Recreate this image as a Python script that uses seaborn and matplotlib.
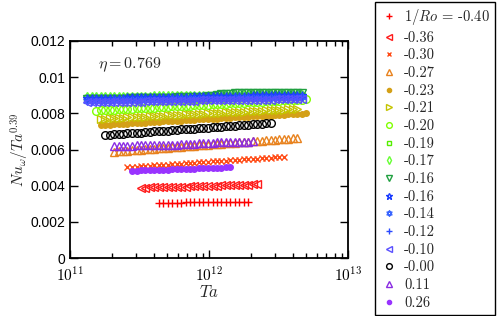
import numpy as np
import pandas as pd
import matplotlib
matplotlib.use("Agg")
import matplotlib.pyplot as plt
from matplotlib.path import Path
from matplotlib.ticker import FuncFormatter, FixedLocator
import seaborn as sns

# ---------------- data ----------------
# common Ta grid (units of 1e11)
TA_GRID = [1.33, 1.43, 1.54, 1.66, 1.79, 1.93, 2.08, 2.24, 2.41, 2.59,
           2.79, 3.01, 3.24, 3.49, 3.75, 4.04, 4.35, 4.69, 5.05, 5.43,
           5.85, 6.3, 6.78, 7.3, 7.86, 8.47, 9.12, 9.82, 10.6, 11.4,
           12.3, 13.2, 14.2, 15.3, 16.5, 17.8, 19.1, 20.6, 22.2, 23.9,
           25.7, 27.7, 29.8, 32.1, 34.6, 37.2, 40.1, 43.2, 46.5, 50.0]

labels = [r"$1/Ro$ = -0.40", "-0.36", "-0.30", "-0.27", "-0.23", "-0.21",
          "-0.20", "-0.19", "-0.17", "-0.16", "-0.16", "-0.14", "-0.12",
          "-0.10", "-0.00", "0.11", "0.26"]

# index in TA_GRID where each sweep starts
start_idx = [16, 12, 9, 6, 3, 3, 2, 0, 0, 0, 0, 0, 0, 0, 4, 6, 10]

# Nu_omega / Ta^0.39 (units of 1e-3)
nu_m040 = [3.04, 3.05, 3.05, 3.06, 3.06, 3.06, 3.07, 3.07, 3.07, 3.08, 3.08,
           3.08, 3.09, 3.09, 3.10, 3.10, 3.10, 3.11, 3.11, 3.12, 3.12]
nu_m036 = [3.88, 3.89, 3.90, 3.90, 3.91, 3.92, 3.93, 3.93, 3.94, 3.95, 3.95,
           3.96, 3.97, 3.97, 3.98, 3.99, 3.99, 4.00, 4.01, 4.02, 4.02, 4.03,
           4.04, 4.05, 4.06, 4.07, 4.08]
nu_m030 = [5.02, 5.04, 5.05, 5.07, 5.09, 5.10, 5.12, 5.14, 5.15, 5.17, 5.19,
           5.20, 5.22, 5.24, 5.25, 5.27, 5.29, 5.30, 5.32, 5.34, 5.35, 5.37,
           5.39, 5.40, 5.42, 5.44, 5.45, 5.47, 5.49, 5.50, 5.52, 5.54, 5.55,
           5.57, 5.58, 5.60]
nu_m027 = [5.88, 5.90, 5.92, 5.94, 5.95, 5.97, 5.99, 6.01, 6.03, 6.05, 6.06,
           6.08, 6.10, 6.12, 6.14, 6.16, 6.17, 6.19, 6.21, 6.23, 6.25, 6.27,
           6.28, 6.30, 6.32, 6.34, 6.36, 6.38, 6.39, 6.41, 6.43, 6.45, 6.47,
           6.49, 6.50, 6.52, 6.54, 6.56, 6.58, 6.60, 6.62, 6.64]
nu_m023 = [7.35, 7.36, 7.38, 7.39, 7.41, 7.42, 7.43, 7.45, 7.46, 7.48, 7.49,
           7.50, 7.52, 7.53, 7.55, 7.56, 7.57, 7.59, 7.60, 7.62, 7.63, 7.64,
           7.66, 7.67, 7.69, 7.70, 7.71, 7.73, 7.74, 7.76, 7.77, 7.78, 7.80,
           7.81, 7.83, 7.84, 7.85, 7.87, 7.88, 7.90, 7.91, 7.92, 7.94, 7.95,
           7.97, 7.98, 8.00]
nu_m021 = [7.70, 7.71, 7.72, 7.74, 7.75, 7.76, 7.77, 7.79, 7.80, 7.81, 7.82,
           7.84, 7.85, 7.86, 7.87, 7.89, 7.90, 7.91, 7.92, 7.94, 7.95, 7.96,
           7.97, 7.99, 8.00, 8.01, 8.02, 8.04, 8.05, 8.06, 8.07, 8.09, 8.10,
           8.11, 8.12, 8.14, 8.15, 8.16, 8.17, 8.19, 8.20, 8.21, 8.22, 8.24,
           8.25]
nu_m020 = [8.15, 8.16, 8.18, 8.19, 8.20, 8.22, 8.23, 8.24, 8.26, 8.27, 8.28,
           8.30, 8.31, 8.32, 8.34, 8.35, 8.36, 8.38, 8.39, 8.40, 8.42, 8.43,
           8.44, 8.46, 8.47, 8.48, 8.50, 8.51, 8.52, 8.54, 8.55, 8.56, 8.58,
           8.59, 8.60, 8.62, 8.63, 8.64, 8.66, 8.67, 8.68, 8.70, 8.71, 8.72,
           8.74, 8.75, 8.76, 8.78]
nu_m019 = [8.85, 8.85, 8.86, 8.86, 8.86, 8.87, 8.87, 8.87, 8.87, 8.88,
           8.88, 8.88, 8.89, 8.89, 8.89, 8.89, 8.90, 8.90, 8.90, 8.91,
           8.91, 8.91, 8.91, 8.92, 8.92, 8.92, 8.93, 8.93, 8.93, 8.93,
           8.94, 8.94, 8.94, 8.95, 8.95, 8.95, 8.95, 8.96, 8.96, 8.96,
           8.96, 8.97, 8.97, 8.97, 8.97, 8.97, 8.98, 8.98, 8.98]
nu_m017 = [8.90, 8.90, 8.90, 8.91, 8.91, 8.91, 8.91, 8.92, 8.92, 8.92,
           8.92, 8.93, 8.93, 8.93, 8.93, 8.94, 8.94, 8.94, 8.94, 8.95,
           8.95, 8.95, 8.95, 8.96, 8.96, 8.96, 8.96, 8.97, 8.97, 8.97,
           8.97, 8.98, 8.98, 8.98, 8.98, 8.99, 8.99, 8.99, 8.99, 9.00,
           9.00, 9.00, 9.00, 9.01, 9.01, 9.01, 9.01, 9.02, 9.02]
nu_m016a = [8.78, 8.78, 8.79, 8.79, 8.80, 8.80, 8.81, 8.81, 8.82, 8.82,
            8.83, 8.83, 8.84, 8.84, 8.85, 8.85, 8.86, 8.86, 8.87, 8.87,
            8.88, 8.88, 8.89, 8.89, 8.90, 8.91, 8.92, 8.94, 8.97, 9.01,
            9.05, 9.08, 9.09, 9.10, 9.10, 9.11, 9.11, 9.12, 9.12, 9.12,
            9.13, 9.13, 9.13, 9.14, 9.14, 9.14, 9.15, 9.15, 9.15]
nu_m016b = [8.84, 8.84, 8.85, 8.85, 8.86, 8.86, 8.86, 8.87, 8.87, 8.88,
            8.88, 8.88, 8.89, 8.89, 8.90, 8.90, 8.90, 8.91, 8.91, 8.92,
            8.92, 8.92, 8.93, 8.93, 8.94, 8.94, 8.94, 8.95, 8.95, 8.96,
            8.96, 8.96, 8.97, 8.97, 8.98, 8.98, 8.98, 8.99, 8.99, 9.00,
            9.00, 9.00, 9.01, 9.01, 9.01, 9.02, 9.02, 9.02, 9.02]
nu_m014 = [8.68, 8.68, 8.69, 8.69, 8.70, 8.70, 8.71, 8.71, 8.72, 8.72,
           8.73, 8.73, 8.74, 8.74, 8.74, 8.75, 8.75, 8.76, 8.76, 8.77,
           8.77, 8.78, 8.78, 8.78, 8.79, 8.79, 8.80, 8.80, 8.81, 8.81,
           8.81, 8.82, 8.82, 8.83, 8.83, 8.83, 8.84, 8.84, 8.84, 8.85,
           8.85, 8.85, 8.86, 8.86, 8.86, 8.87, 8.87, 8.87, 8.88]
nu_m012 = [8.78, 8.78, 8.79, 8.79, 8.79, 8.79, 8.80, 8.80, 8.80, 8.81,
           8.81, 8.81, 8.82, 8.82, 8.82, 8.82, 8.83, 8.83, 8.83, 8.84,
           8.84, 8.84, 8.85, 8.85, 8.85, 8.85, 8.86, 8.86, 8.86, 8.87,
           8.87, 8.87, 8.88, 8.88, 8.88, 8.88, 8.89, 8.89, 8.89, 8.90,
           8.90, 8.90, 8.90, 8.91, 8.91, 8.91, 8.91, 8.92, 8.92]
nu_m010 = [8.60, 8.60, 8.61, 8.61, 8.62, 8.62, 8.63, 8.63, 8.64, 8.64,
           8.65, 8.65, 8.65, 8.66, 8.66, 8.67, 8.67, 8.67, 8.68, 8.68,
           8.69, 8.69, 8.69, 8.70, 8.70, 8.71, 8.71, 8.71, 8.72, 8.72,
           8.73, 8.73, 8.73, 8.74, 8.74, 8.74, 8.75, 8.75, 8.75, 8.76,
           8.76, 8.76, 8.77, 8.77, 8.77, 8.78, 8.78, 8.78, 8.78]
nu_000 = [6.80, 6.82, 6.84, 6.85, 6.87, 6.89, 6.91, 6.93, 6.94, 6.96,
          6.98, 7.00, 7.02, 7.03, 7.05, 7.07, 7.09, 7.11, 7.12, 7.14,
          7.16, 7.18, 7.20, 7.21, 7.23, 7.25, 7.27, 7.29, 7.30, 7.32,
          7.34, 7.36, 7.38, 7.39, 7.41, 7.43, 7.45, 7.47]
nu_p011 = [6.20, 6.21, 6.21, 6.22, 6.22, 6.23, 6.23, 6.24, 6.24, 6.25,
           6.25, 6.26, 6.26, 6.27, 6.27, 6.28, 6.29, 6.31, 6.33, 6.35,
           6.36, 6.37, 6.38, 6.39, 6.39, 6.40, 6.41, 6.41, 6.42, 6.43,
           6.44, 6.45]
nu_p026 = [4.82, 4.83, 4.84, 4.85, 4.86, 4.87, 4.87, 4.88, 4.89, 4.90,
           4.91, 4.92, 4.93, 4.94, 4.94, 4.95, 4.96, 4.97, 4.98, 4.99,
           5.00, 5.01, 5.02]

series_nu = [nu_m040, nu_m036, nu_m030, nu_m027, nu_m023, nu_m021, nu_m020,
             nu_m019, nu_m017, nu_m016a, nu_m016b, nu_m014, nu_m012, nu_m010,
             nu_000, nu_p011, nu_p026]

# ---------------- styles ----------------
a1 = np.deg2rad([90, 210, 330, 90])
a2 = np.deg2rad([270, 30, 150, 270])
hex_verts = list(zip(np.cos(a1), np.sin(a1))) + list(zip(np.cos(a2), np.sin(a2)))
hex_codes = [Path.MOVETO, Path.LINETO, Path.LINETO, Path.CLOSEPOLY] * 2
HEXAGRAM = Path(hex_verts, hex_codes)

colors = ["#ff0000", "#ff1a1a", "#ff4a14", "#e8821e", "#d4a017", "#c4c400",
          "#80ff00", "#55ee00", "#66ff33", "#20a040", "#1a3cff", "#3a66ff",
          "#2a4aff", "#5a50ff", "#000000", "#8a2be2", "#9933ff"]
markers = ["+", "<", "x", "^", "o", ">", "o", "s", "d", "v", "*", HEXAGRAM,
           "+", "<", "o", "^", "o"]
filled = [False] * 17
filled[4] = True
filled[16] = True
msizes = [6, 5.5, 4.5, 5.5, 4, 5.5, 5.5, 4.5, 5.5, 5.5, 6, 5.5, 6, 5.5, 5.5, 5.5, 4]

# ---------------- figure ----------------
sns.set_style("ticks")
plt.rcParams["font.family"] = ["Liberation Sans", "DejaVu Sans"]
plt.rcParams["mathtext.fontset"] = "cm"

fig = plt.figure(figsize=(4.98, 3.16), dpi=100)
ax = fig.add_axes([70 / 498, 58 / 316, 278 / 498, 217 / 316])

for i, (lab, nu) in enumerate(zip(labels, series_nu)):
    s0 = start_idx[i]
    ta = np.array(TA_GRID[s0:s0 + len(nu)]) * 1e11
    df = pd.DataFrame({"Ta": ta, "Nu": np.array(nu) * 1e-3})
    c = colors[i]
    sns.lineplot(data=df, x="Ta", y="Nu", ax=ax, estimator=None, sort=False,
                 linestyle="", marker=markers[i], markersize=msizes[i],
                 color=c, markeredgecolor=c,
                 markerfacecolor=(c if filled[i] else "none"),
                 markeredgewidth=1.0, label=lab)

ax.set_xscale("log")
ax.set_xlim(1e11, 1e13)
ax.set_ylim(0, 0.012)
ax.yaxis.set_major_locator(FixedLocator([0, 0.002, 0.004, 0.006, 0.008, 0.01, 0.012]))
ax.yaxis.set_major_formatter(FuncFormatter(lambda v, p: "{:g}".format(round(v, 4))))
ax.xaxis.set_major_formatter(FuncFormatter(
    lambda v, p: r"$\mathsf{10^{%d}}$" % int(round(np.log10(v)))))
ax.tick_params(which="both", direction="in", top=True, right=True,
               width=1.0, labelsize=10, color="black", labelcolor="black")
ax.tick_params(axis="x", which="major", labelsize=11, pad=5.5)
ax.tick_params(which="major", length=6)
ax.tick_params(which="minor", length=3.5)
for sp in ax.spines.values():
    sp.set_linewidth(1.3)
    sp.set_color("black")

ax.set_xlabel(r"$Ta$", fontsize=12)
ax.set_ylabel(r"$Nu_\omega/Ta^{0.39}$", fontsize=11)
ax.xaxis.set_label_coords(0.5, -0.122)
ax.yaxis.set_label_coords(-0.142, 0.5)

ax.text(0.1, 0.89, r"$\eta = 0.769$", transform=ax.transAxes, fontsize=11.5,
        va="center", ha="left")

handles, labs = ax.get_legend_handles_labels()
if ax.get_legend() is not None:
    ax.get_legend().remove()
leg = fig.legend(handles, labs, loc="upper left",
                 bbox_to_anchor=(375 / 498, 314 / 316), borderaxespad=0,
                 prop={"family": "cmr10", "size": 10.5}, frameon=True,
                 fancybox=False, edgecolor="black", framealpha=1,
                 handlelength=1.2, handletextpad=0.45, borderpad=0.35,
                 labelspacing=0.27, markerscale=0.75)
leg.get_frame().set_linewidth(1.0)

fig.savefig("out.png", dpi=100)
